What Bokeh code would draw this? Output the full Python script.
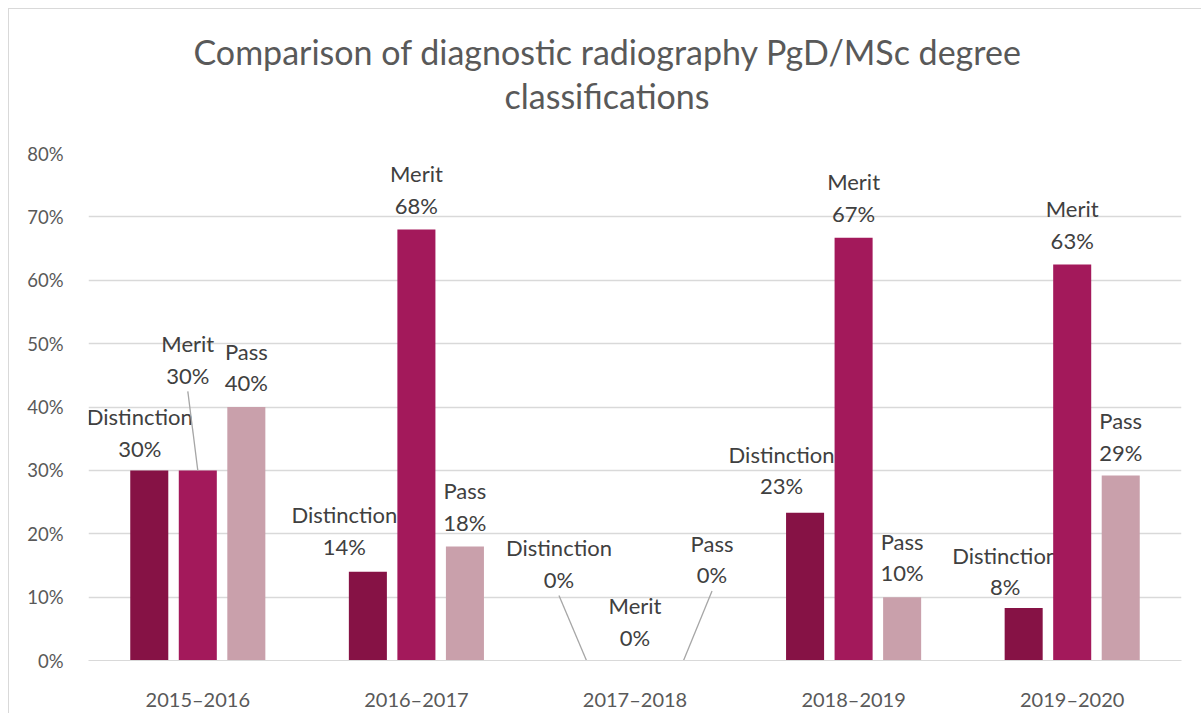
from bokeh.plotting import figure
from bokeh.models import ColumnDataSource, FactorRange, Range1d, PrintfTickFormatter, FixedTicker, Title
from bokeh.core.properties import value
from bokeh.embed import file_html
from bokeh.resources import INLINE

# ---------------- data ----------------
years = ["2015–2016", "2016–2017", "2017–2018", "2018–2019", "2019–2020"]
distinction = [30, 14, 0, 23.3, 8.3]
merit = [30, 68, 0, 66.7, 62.5]
pass_ = [40, 18, 0, 10, 29.2]
series_names = ["Distinction", "Merit", "Pass"]
y_ticks = [0, 10, 20, 30, 40, 50, 60, 70, 80]
title_lines = ["Comparison of diagnostic radiography PgD/MSc degree", "classifications"]

# ---------------- styles ----------------
colors = ["#861245", "#A3195B", "#C9A0AB"]
bar_offsets = [-0.222, 0.0, 0.222]
bar_width = 0.174
# data label pixel offsets relative to bar top (screen px, +down)
label_dx = [[-9.5, -23.5, -27.5, -23.5, -18.5],
            [-10, 0, 0, 0, 0],
            [0, 0, 28.5, 0, 0]]
label_dy = [[-38, -41, -97, -43, -37],
            [-111, -40, -39, -40, -40],
            [-40, -40, -101.5, -40, -39]]
leaders = [[False, False, True, False, False],
           [True, False, False, False, False],
           [False, False, True, False, False]]
title_offsets = [105, 416]     # px from frame left
title_standoffs = [2, 0]

FONT = "Lato"
FRAME_W, FRAME_H = 1093, 507
Y_MAX = 80
px_x = FRAME_W / len(years)
px_y = FRAME_H / Y_MAX

p = figure(x_range=FactorRange(*years), y_range=Range1d(0, Y_MAX),
           frame_width=FRAME_W, frame_height=FRAME_H,
           min_border_left=79, min_border_top=144, min_border_right=20, min_border_bottom=52,
           output_backend="svg", toolbar_location=None)
p.margin = (8, 0, 0, 8)
p.styles = {"border-left": "1px solid #D9D9D9", "border-top": "1px solid #D9D9D9"}
p.outline_line_color = None
p.background_fill_color = "white"
p.border_fill_color = "white"

# spacer between frame and title, then title lines (nearest the frame first)
p.add_layout(Title(text=" ", text_font_size="10px", standoff=25), "above")
for j in [1, 0]:
    p.add_layout(Title(text=title_lines[j], align="left", offset=title_offsets[j],
                       standoff=title_standoffs[j], text_font=FONT, text_font_style="normal",
                       text_font_size="34px", text_color="#595959"), "above")

series_values = [distinction, merit, pass_]
for k, (name, vals) in enumerate(zip(series_names, series_values)):
    xs = [i + 0.5 + bar_offsets[k] for i in range(len(years))]
    src = ColumnDataSource(dict(x=xs, top=vals))
    p.vbar(x="x", top="top", width=bar_width, bottom=0, source=src,
           fill_color=colors[k], line_color=None)
    texts = [f"{name}\n{int(v + 0.5)}%" for v in vals]
    lsrc = ColumnDataSource(dict(x=xs, y=vals, text=texts, dx=label_dx[k], dy=label_dy[k]))
    p.text(x="x", y="y", text="text", x_offset="dx", y_offset="dy", source=lsrc,
           text_align="center", text_baseline="middle", text_font=value(FONT),
           text_font_size="22px", text_color="#404040", text_line_height=1.17)
    # leader lines
    x0, y0, x1, y1 = [], [], [], []
    for i, v in enumerate(vals):
        if leaders[k][i]:
            x0.append(xs[i] + label_dx[k][i] / px_x)
            y0.append(v - (label_dy[k][i] + 32) / px_y)
            x1.append(xs[i])
            y1.append(v)
    if x0:
        p.segment(x0=x0, y0=y0, x1=x1, y1=y1, line_color="#A6A6A6", line_width=1.3)

# axes
p.yaxis.ticker = FixedTicker(ticks=y_ticks)
p.yaxis.formatter = PrintfTickFormatter(format="%d%%")
p.yaxis.axis_line_color = None
p.yaxis.major_tick_line_color = None
p.yaxis.minor_tick_line_color = None
p.yaxis.major_label_standoff = 19
p.xaxis.axis_line_color = "#D9D9D9"
p.xaxis.major_tick_line_color = None
p.xaxis.minor_tick_line_color = None
p.xaxis.major_label_standoff = 20
for ax in (p.xaxis, p.yaxis):
    ax.major_label_text_font = FONT
    ax.major_label_text_color = "#595959"
p.yaxis.major_label_text_font_size = "18.5px"
p.xaxis.major_label_text_font_size = "20px"
p.xgrid.grid_line_color = None
p.ygrid.grid_line_color = "#D9D9D9"
p.ygrid.grid_line_width = 1.3

open("out.html", "w").write(file_html(p, INLINE))
